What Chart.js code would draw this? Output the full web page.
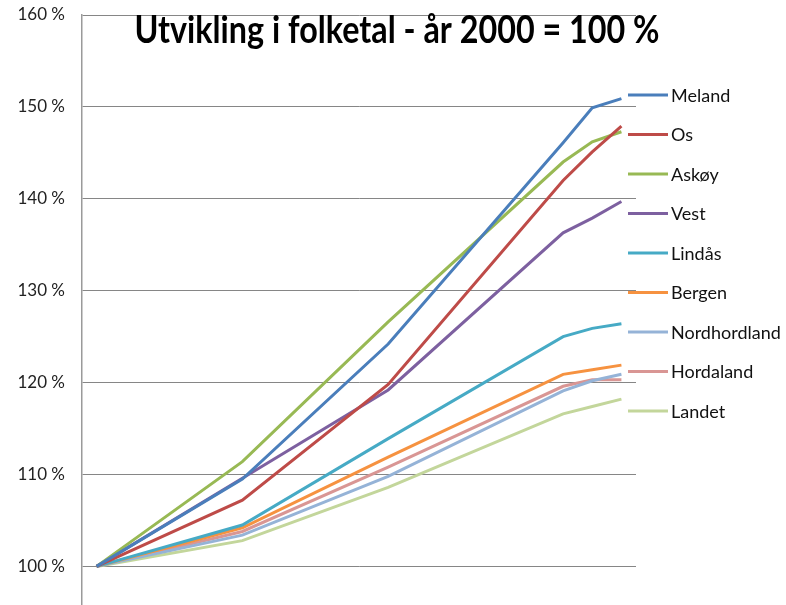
<!DOCTYPE html>
<html>
<head>
<meta charset="utf-8">
<script src="https://cdn.jsdelivr.net/npm/chart.js@4"></script>
<style>
  html, body { margin: 0; padding: 0; background: #fff; }
  #wrap { width: 786px; height: 605px; position: relative; }
</style>
</head>
<body>
<div id="wrap"><canvas id="c" width="786" height="605"></canvas></div>
<script>
// ---- data ----
const years = [2000, 2005, 2010, 2016, 2017, 2018];
const seriesNames = ["Meland", "Os", "Askøy", "Vest", "Lindås", "Bergen", "Nordhordland", "Hordaland", "Landet"];
const meland       = [100, 109.5, 124.2, 146.1, 149.9, 150.9];
const os           = [100, 107.2, 119.8, 142.0, 145.1, 147.9];
const askoy        = [100, 111.4, 126.6, 144.0, 146.2, 147.3];
const vest         = [100, 109.6, 119.2, 136.3, 137.9, 139.7];
const lindas       = [100, 104.5, 113.9, 125.0, 125.9, 126.4];
const bergen       = [100, 104.2, 111.9, 120.9, 121.4, 121.9];
const nordhordland = [100, 103.4, 109.8, 119.1, 120.2, 120.9];
const hordaland    = [100, 103.8, 110.8, 119.6, 120.3, 120.3];
const landet       = [100, 102.8, 108.6, 116.6, 117.4, 118.2];
const yTicks = [100, 110, 120, 130, 140, 150, 160];
const titleText = "Utvikling i folketal - år 2000 = 100 %";

const seriesValues = [meland, os, askoy, vest, lindas, bergen, nordhordland, hordaland, landet];
const colors = ["#4A7EBB", "#BE4B48", "#98B954", "#7D60A0", "#46AAC5", "#F69240", "#95B3D7", "#D99694", "#C3D69B"];

const datasets = seriesNames.map((name, i) => ({
  label: name,
  data: years.map((y, j) => ({ x: y, y: seriesValues[i][j] })),
  borderColor: colors[i],
  backgroundColor: colors[i],
  borderWidth: 3,
  pointRadius: 0,
  tension: 0,
  fill: false
}));

const sideLegend = {
  id: 'sideLegend',
  afterDraw(chart) {
    const ctx = chart.ctx;
    ctx.save();
    chart.data.datasets.forEach((ds, i) => {
      const y = 95 + i * 39.5;
      ctx.strokeStyle = ds.borderColor;
      ctx.lineWidth = 3;
      ctx.beginPath();
      ctx.moveTo(628, y);
      ctx.lineTo(668, y);
      ctx.stroke();
      ctx.fillStyle = '#111';
      ctx.font = '18px Lato';
      ctx.textBaseline = 'middle';
      ctx.textAlign = 'left';
      ctx.fillText(ds.label, 671, y + 1);
    });
    ctx.restore();
  }
};

const titlePlugin = {
  id: 'titlePlugin',
  afterDraw(chart) {
    const ctx = chart.ctx;
    ctx.save();
    ctx.fillStyle = '#000';
    ctx.font = 'bold 38px Lato';
    ctx.textAlign = 'center';
    ctx.textBaseline = 'middle';
    ctx.translate(397, 31);
    ctx.scale(0.85, 1);
    ctx.fillText(titleText, 0, 0);
    ctx.restore();
  }
};

new Chart(document.getElementById('c'), {
  type: 'line',
  data: { datasets },
  options: {
    responsive: false,
    animation: false,
    layout: { padding: { top: 15, right: 150, bottom: 0, left: 0 } },
    plugins: { legend: { display: false }, tooltip: { enabled: false } },
    scales: {
      x: {
        type: 'linear',
        min: 1999.5,
        max: 2018.5,
        display: false
      },
      y: {
        min: 95.8,
        max: 160,
        afterFit(scale) {
          scale.width = 82;
          scale.paddingTop = 0;
          scale.paddingBottom = 0;
        },
        afterBuildTicks(scale) { scale.ticks = yTicks.map(v => ({ value: v })); },
        grid: { color: '#868686', lineWidth: 1, drawTicks: false },
        border: { color: '#9a9a9a', width: 1.5 },
        ticks: {
          padding: 17,
          color: '#222',
          font: { family: 'Lato', size: 17 },
          callback: v => v + ' %'
        }
      }
    }
  },
  plugins: [sideLegend, titlePlugin]
});
</script>
</body>
</html>
